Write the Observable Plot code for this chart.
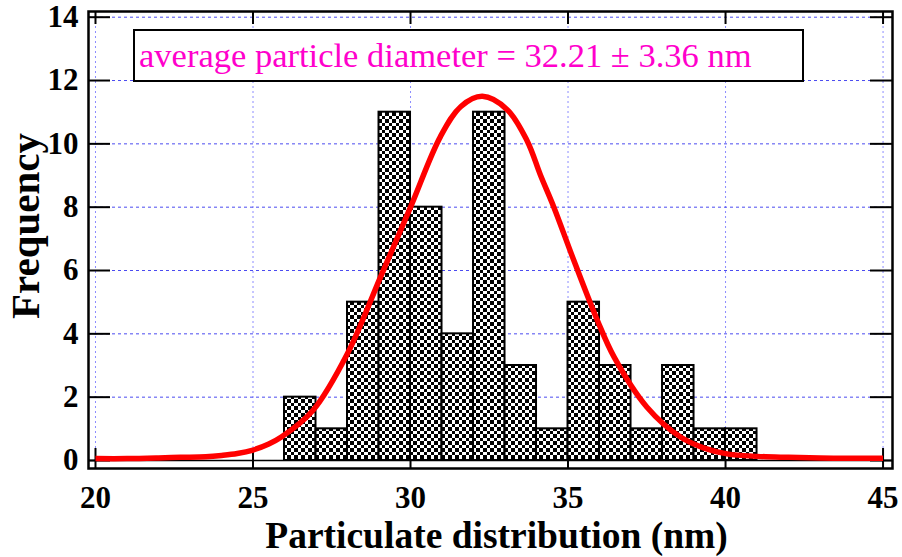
<!DOCTYPE html>
<html><head><meta charset="utf-8">
<script src="https://cdn.jsdelivr.net/npm/d3@7"></script>
<script src="https://cdn.jsdelivr.net/npm/@observablehq/plot@0.6"></script>
<style>
body{margin:0;background:#fff;}
#wrap{position:relative;width:902px;height:557px;}
#note{position:absolute;left:132.7px;top:29.3px;width:671.3px;height:52.4px;box-sizing:border-box;border:2.5px solid #000;background:#fff;}
#note span{position:absolute;left:4px;top:8.9px;font-family:"Liberation Serif",serif;font-size:33px;line-height:1;color:#ff00cc;white-space:nowrap;transform:scaleX(1.046);transform-origin:0 0;}
</style></head><body><div id="wrap"></div>
<script>
// Histogram bins (nm) and counts
const binLo  = [26, 27, 28, 29, 30, 31, 32, 33, 34, 35, 36, 37, 38, 39, 40];
const binHi  = [27, 28, 29, 30, 31, 32, 33, 34, 35, 36, 37, 38, 39, 40, 41];
const counts = [2, 1, 5, 11, 8, 4, 11, 3, 1, 5, 3, 1, 3, 1, 1];

// Fitted curve
const fitX = [20, 21, 22, 22.7, 23.5, 24, 24.5, 25, 25.5, 25.9, 26.9, 28, 29.05, 30, 30.95, 31.6, 32.28, 33.07, 33.7, 34.13, 34.55, 35.18, 35.93, 36.46, 37.5, 38.57, 39.3, 40.05, 41, 42, 43, 44, 45];
const fitY = [0.06, 0.06, 0.08, 0.1, 0.12, 0.16, 0.22, 0.33, 0.52, 0.74, 1.58, 3.38, 5.8, 8.0, 10.23, 11.18, 11.5, 11.08, 10.1, 9.0, 8.0, 6.33, 4.43, 3.27, 1.69, 0.74, 0.4, 0.21, 0.13, 0.1, 0.08, 0.07, 0.07];

const xTicks = [20, 25, 30, 35, 40, 45];
const yTicks = [0, 2, 4, 6, 8, 10, 12, 14];
const xTitle = "Particulate distribution (nm)";
const yTitle = "Frequency";
const note = "average particle diameter = 32.21 ± 3.36 nm";

const bars = binLo.map((lo, i) => ({lo, hi: binHi[i], n: counts[i]}));
const fit = fitX.map((x, i) => ({x, y: fitY[i]}));

const W = 902, H = 557, mL = 88, mR = 10, mT = 11, mB = 89;
const fw = W - mL - mR, fh = H - mT - mB;
const bold = {fontFamily: "Liberation Serif", fontWeight: "bold"};

const chart = Plot.plot({
  width: W, height: H,
  marginLeft: mL, marginRight: mR, marginTop: mT, marginBottom: mB,
  style: {fontFamily: "Liberation Serif", color: "black", background: "white", overflow: "visible"},
  x: {domain: [19.778, 45.3]},
  y: {domain: [-0.253, 14.18]},
  marks: [
    Plot.gridX(xTicks, {stroke: "#8c8cff", strokeOpacity: 1, strokeWidth: 1, strokeDasharray: "2,3"}),
    Plot.gridY(yTicks, {stroke: "#4b4bf0", strokeOpacity: 1, strokeWidth: 1, strokeDasharray: "3,3"}),
    // inward ticks on all four sides
    Plot.ruleX(xTicks, {stroke: "black", strokeWidth: 2, insetTop: fh - 20}),
    Plot.ruleX(xTicks, {stroke: "black", strokeWidth: 2, insetBottom: fh - 13}),
    Plot.ruleY(yTicks, {stroke: "black", strokeWidth: 2, insetRight: fw - 22}),
    Plot.ruleY(yTicks, {stroke: "black", strokeWidth: 2, insetLeft: fw - 22}),
    Plot.rectY(bars, {x1: "lo", x2: "hi", y1: 0, y2: "n", fill: "url(#checker)", stroke: "black", strokeWidth: 2, inset: 0}),
    Plot.ruleY([0], {stroke: "black", strokeWidth: 1.7}),
    Plot.line(fit, {x: "x", y: "y", stroke: "#ff0000", strokeWidth: 5.5, curve: "catmull-rom", strokeLinecap: "butt"}),
    Plot.frame({stroke: "black", strokeWidth: 2.5}),
    Plot.axisX(xTicks, {anchor: "bottom", tickSize: 0, tickPadding: 17, fontSize: 31, ...bold, label: null, tickFormat: d => String(d)}),
    Plot.axisY(yTicks, {anchor: "left", tickSize: 0, tickPadding: 10, fontSize: 31, ...bold, label: null, tickFormat: d => String(d)}),
    Plot.text([xTitle], {text: d => d, frameAnchor: "bottom", textAnchor: "middle", lineAnchor: "middle", dy: 67, dx: 6, fontSize: 37.5, ...bold}),
    Plot.text([yTitle], {text: d => d, frameAnchor: "left", textAnchor: "middle", lineAnchor: "middle", rotate: -90, dx: -63, dy: -14, fontSize: 41, ...bold})
  ]
});

// checkerboard fill pattern
const ns = "http://www.w3.org/2000/svg";
const defs = document.createElementNS(ns, "defs");
const pat = document.createElementNS(ns, "pattern");
pat.setAttribute("id", "checker");
pat.setAttribute("patternUnits", "userSpaceOnUse");
pat.setAttribute("width", 7); pat.setAttribute("height", 7);
pat.setAttribute("shape-rendering", "crispEdges");
[[0,0,7,7,"#fff"],[0,0,3.5,3.5,"#000"],[3.5,3.5,3.5,3.5,"#000"]].forEach(([x,y,w,h,f]) => {
  const r = document.createElementNS(ns, "rect");
  r.setAttribute("x", x); r.setAttribute("y", y); r.setAttribute("width", w); r.setAttribute("height", h); r.setAttribute("fill", f);
  r.setAttribute("shape-rendering", "crispEdges");
  pat.appendChild(r);
});
defs.appendChild(pat);
chart.insertBefore(defs, chart.firstChild);

const wrap = document.getElementById("wrap");
wrap.appendChild(chart);
const box = document.createElement("div");
box.id = "note";
const span = document.createElement("span");
span.textContent = note;
box.appendChild(span);
wrap.appendChild(box);
</script></body></html>
